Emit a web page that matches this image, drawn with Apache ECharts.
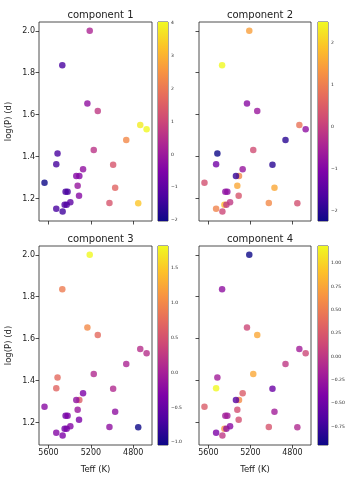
<!DOCTYPE html>
<html>
<head>
<meta charset="utf-8">
<script src="https://cdn.jsdelivr.net/npm/echarts@6/dist/echarts.min.js"></script>
<style>
  html, body { margin: 0; padding: 0; background: #fff; }
  #main { width: 360px; height: 480px; }
</style>
</head>
<body>
<div id="main"></div>
<script>
// star sample, same positions in all four panels
var teff = [5211, 5470, 5233, 5135, 4734, 4674, 4866, 5173, 5515, 5527, 4990, 5274, 5309, 5338, 5638, 5325, 4971, 5439, 5420, 5312, 5394, 5025, 4753, 5448, 5429, 5527, 5467];
var logP = [2.000, 1.836, 1.653, 1.618, 1.551, 1.531, 1.479, 1.431, 1.415, 1.364, 1.361, 1.340, 1.308, 1.308, 1.276, 1.261, 1.251, 1.233, 1.232, 1.214, 1.182, 1.179, 1.178, 1.170, 1.170, 1.151, 1.138];

// component values (colour)
var comp1 = [0.3, -1.3, -0.2, 0.7, 3.85, 4.03, 2.3, 0.6, -1.3, -1.35, 1.3, -0.2, -0.4, -0.4, -2.03, -0.1, 1.6, -1.3, -1.3, -0.35, -1.0, 1.3, 3.3, -1.2, -1.2, -1.3, -1.4];
var comp2 = [1.45, 2.5, -0.92, -0.68, 0.84, -0.83, -2.0, 0.22, -2.25, -1.2, -2.0, -0.73, 1.17, -1.87, 0.27, 1.55, 1.55, -0.83, -0.83, 0.36, -0.1, 1.17, 0.27, 1.8, -0.1, 1.07, 0.12];
var comp3 = [1.82, 0.9, 1.02, 0.73, 0.16, 0.16, 0.05, 0.1, 0.73, 0.68, 0.1, -0.33, 0.62, -0.18, -0.24, -0.1, -0.18, -0.41, -0.33, -0.33, -0.27, -0.18, -1.04, -0.41, -0.35, -0.27, -0.33];
var comp4 = [-0.95, -0.31, 0.12, 0.76, -0.2, 0.12, 0.01, 0.76, -0.2, 1.185, -0.52, 0.27, 0.59, -0.63, 0.27, 0.18, -0.2, -0.2, -0.2, 0.18, -0.35, 0.22, -0.1, 0.65, -0.31, -0.42, 0.01];

var comps = [comp1, comp2, comp3, comp4];
var titles = ['component 1', 'component 2', 'component 3', 'component 4'];
var cbRange = [[-2.03, 4.03], [-2.25, 2.5], [-1.04, 1.82], [-0.95, 1.185]];
var cbTicks = [[-2, -1, 0, 1, 2, 3, 4], [-2, -1, 0, 1, 2], [-1.0, -0.5, 0.0, 0.5, 1.0, 1.5], [-0.75, -0.5, -0.25, 0, 0.25, 0.5, 0.75, 1.0]];
var cbDigits = [0, 0, 1, 2];
var xTicks = [5600, 5200, 4800];
var yTicks = [1.2, 1.4, 1.6, 1.8, 2.0];

var plasma = ['#0d0887', '#4c02a1', '#7e03a8', '#a92395', '#cc4778', '#e56b5d', '#f89441', '#fdc328', '#f0f921'];

var font = 'DejaVu Sans';
var boxes = [
  { left: 39, top: 22, w: 113, h: 199, cb: 158 },
  { left: 199, top: 22, w: 112, h: 199, cb: 318 },
  { left: 39, top: 246, w: 113, h: 199, cb: 158 },
  { left: 199, top: 246, w: 112, h: 199, cb: 318 }
];

function fmtMinus(s) { return s.replace('-', '\u2212'); }

var grid = [], xAxis = [], yAxis = [], series = [], visualMap = [], title = [];

boxes.forEach(function (b, i) {
  var bottomRow = i >= 2, leftCol = i % 2 === 0;
  grid.push({ left: b.left, top: b.top, width: b.w, height: b.h, show: true, borderColor: '#222', borderWidth: 0.8 });
  xAxis.push({
    type: 'value', gridIndex: i, inverse: true, min: 4623, max: 5690,
    name: bottomRow ? 'Teff (K)' : '', nameLocation: 'middle', nameGap: 20,
    nameTextStyle: { fontFamily: font, fontSize: 8.5, color: '#222' },
    axisLine: { show: false }, splitLine: { show: false },
    axisTick: { show: true, length: 3.5, customValues: xTicks, lineStyle: { color: '#222', width: 0.8 } },
    axisLabel: { show: bottomRow, customValues: xTicks, margin: 4, fontFamily: font, fontSize: 8, color: '#222',
      formatter: function (v) { return String(v); } }
  });
  yAxis.push({
    type: 'value', gridIndex: i, min: 1.093, max: 2.042,
    name: leftCol ? 'log(P) (d)' : '', nameLocation: 'middle', nameGap: 26, nameRotate: 90,
    nameTextStyle: { fontFamily: font, fontSize: 8.5, color: '#222' },
    axisLine: { show: false }, splitLine: { show: false },
    axisTick: { show: true, length: 3.5, customValues: yTicks, lineStyle: { color: '#222', width: 0.8 } },
    axisLabel: { show: leftCol, customValues: yTicks, margin: 4, fontFamily: font, fontSize: 8, color: '#222',
      formatter: function (v) { return v.toFixed(1); } }
  });
  title.push({ text: titles[i], left: b.left + b.w / 2, top: b.top - 17, textAlign: 'center',
    textStyle: { fontFamily: font, fontSize: 10, fontWeight: 'normal', color: '#222' } });

  series.push({
    type: 'scatter', xAxisIndex: i, yAxisIndex: i, symbolSize: 6.5,
    data: teff.map(function (t, k) { return [t, logP[k], comps[i][k]]; })
  });
  visualMap.push({ show: false, type: 'continuous', seriesIndex: i, dimension: 2,
    min: cbRange[i][0], max: cbRange[i][1], inRange: { color: plasma } });
});

// colour bars
boxes.forEach(function (b, i) {
  var gi = 4 + i;
  var d = cbDigits[i];
  grid.push({ left: b.cb, top: b.top, width: 10, height: b.h, show: true, borderColor: '#222', borderWidth: 0.8 });
  xAxis.push({ type: 'value', gridIndex: gi, min: 0, max: 1, show: false });
  yAxis.push({
    type: 'value', gridIndex: gi, position: 'right', min: cbRange[i][0], max: cbRange[i][1],
    axisLine: { show: false }, splitLine: { show: false },
    axisTick: { show: true, length: 2, customValues: cbTicks[i], lineStyle: { color: '#222', width: 0.6 } },
    axisLabel: { show: true, customValues: cbTicks[i], margin: 3, fontFamily: font, fontSize: 4.5, color: '#222',
      formatter: function (v) { return fmtMinus(v.toFixed(d)); } }
  });
  series.push({
    type: 'custom', xAxisIndex: gi, yAxisIndex: gi, silent: true,
    data: [[0, cbRange[i][0], cbRange[i][1]]],
    renderItem: function (params, api) {
      var p0 = api.coord([0, api.value(1)]);
      var p1 = api.coord([1, api.value(2)]);
      var stops = plasma.map(function (c, k) { return { offset: k / (plasma.length - 1), color: c }; });
      return {
        type: 'rect',
        shape: { x: p0[0], y: p1[1], width: p1[0] - p0[0], height: p0[1] - p1[1] },
        style: { fill: new echarts.graphic.LinearGradient(0, 1, 0, 0, stops) }
      };
    }
  });
});

var myChart = echarts.init(document.getElementById('main'));
myChart.setOption({
  animation: false,
  backgroundColor: '#fff',
  title: title,
  grid: grid,
  xAxis: xAxis,
  yAxis: yAxis,
  visualMap: visualMap,
  series: series
});
</script>
</body>
</html>
